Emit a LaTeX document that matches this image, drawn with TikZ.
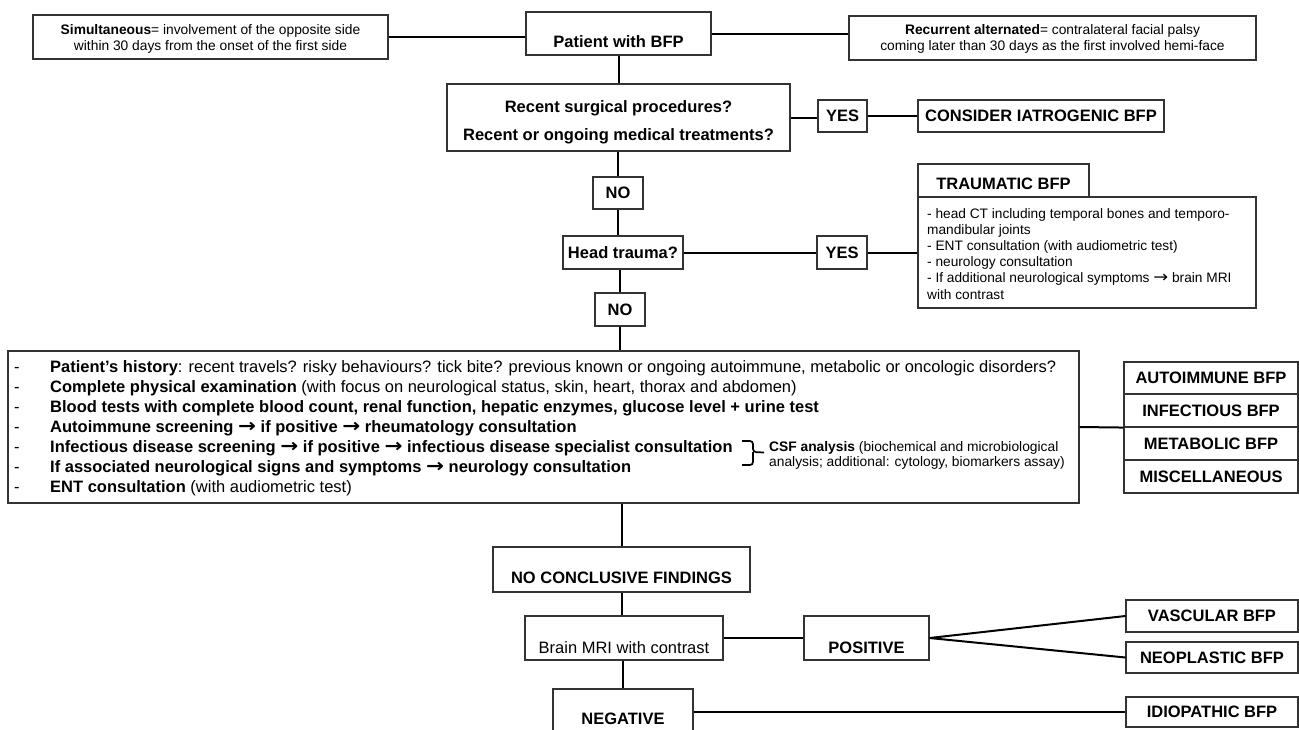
\documentclass[tikz,border=0pt]{standalone}
\usepackage{fontspec}
\usepackage{graphicx}
\setmainfont{Liberation Sans}
\newfontfamily\dvfont{DejaVu Sans}
\newcommand{\arr}{\scalebox{1.3}[1.15]{\dvfont\char"2192}}
\begin{document}
\begin{tikzpicture}[x=1pt,y=-1pt,
  box/.style={draw=black!80, line width=1.1pt, inner sep=0pt, rectangle, fill=white},
  conn/.style={line width=2pt, black},
  lbl/.style={font=\fontsize{16.5}{19}\selectfont\bfseries},
  txt/.style={anchor=base, inner sep=0pt},
  txtl/.style={anchor=base west, inner sep=0pt},
  small/.style={font=\fontsize{13.8}{16}\selectfont},
  mid/.style={font=\fontsize{13.7}{16}\selectfont},
  body/.style={font=\fontsize{16.5}{20}\selectfont},
  csf/.style={font=\fontsize{13.8}{15}\selectfont}
]
\clip (0,0) rectangle (1299,729);
\fill[white] (0,0) rectangle (1299,729);

% top row
\node[box, minimum width=355, minimum height=44] (sim) at (210.5,37) {};
\node[box, minimum width=185, minimum height=43] (pat) at (618.5,33.5) {};
\node[box, minimum width=407, minimum height=44] (rec) at (1052.5,38) {};
\node[txt, small] (simt1) at (210.5,34.8) {\textbf{Simultaneous}= involvement of the opposite side};
\node[txt, small] (simt2) at (210.5,50.8) {within 30 days from the onset of the first side};
\node[txt, lbl] (patt) at (618.5,47.9) {Patient with BFP};
\node[txt, small] (rect1) at (1052.5,34.8) {\textbf{Recurrent alternated}= contralateral facial palsy};
\node[txt, small] (rect2) at (1052.5,50.8) {coming later than 30 days as the first involved hemi-face};

% question 1
\node[box, minimum width=343, minimum height=67] (q1) at (618.5,117.5) {};
\node[txt, lbl] (q1t1) at (618.5,112.9) {Recent surgical procedures?};
\node[txt, lbl] (q1t2) at (618.5,140.9) {Recent or ongoing medical treatments?};
\node[box, lbl, minimum width=49, minimum height=32] (yes1) at (842.5,116) {YES};
\node[box, lbl, minimum width=246, minimum height=32] (iat) at (1041,116) {CONSIDER IATROGENIC BFP};

% head trauma
\node[box, lbl, minimum width=50, minimum height=32] (no1) at (618,193) {NO};
\node[box, lbl, minimum width=120, minimum height=33] (head) at (623,252.5) {Head trauma?};
\node[box, lbl, minimum width=50, minimum height=33] (yes2) at (842,252.5) {YES};
\node[box, minimum width=171, minimum height=33] (traumh) at (1003.5,180.5) {};
\node[txt, lbl] (traumht) at (1003.5,189) {TRAUMATIC BFP};
\node[box, minimum width=338, minimum height=111] (traumd) at (1087,252.5) {};
\node[txtl, mid] (td1) at (927,218) {- head CT including temporal bones and temporo-};
\node[txtl, mid] (td2) at (927,234.2) {mandibular joints};
\node[txtl, mid] (td3) at (927,250.4) {- ENT consultation (with audiometric test)};
\node[txtl, mid] (td4) at (927,266.6) {- neurology consultation};
\node[txtl, mid] (td5) at (927,282.8) {- If additional neurological symptoms \arr{} brain MRI};
\node[txtl, mid] (td6) at (927,299) {with contrast};
\node[box, lbl, minimum width=50, minimum height=33] (no2) at (620,309.5) {NO};

% main work-up box
\node[box, minimum width=1071, minimum height=152] (main) at (543.5,427) {};
\foreach \k in {0,...,6}{
  \node[txtl, body] (dash\k) at (14,372.7+20*\k) {-};
}
\node[txtl, body] (l1) at (50,372.7) {\textbf{Patient’s history}: recent travels? risky behaviours? tick bite? previous known or ongoing autoimmune, metabolic or oncologic disorders?};
\node[txtl, body] (l2) at (50,392.7) {\textbf{Complete physical examination} (with focus on neurological status, skin, heart, thorax and abdomen)};
\node[txtl, body] (l3) at (50,412.7) {\textbf{Blood tests with complete blood count, renal function, hepatic enzymes, glucose level + urine test}};
\node[txtl, body] (l4) at (50,432.7) {\textbf{Autoimmune screening \arr{} if positive \arr{} rheumatology consultation}};
\node[txtl, body] (l5) at (50,452.7) {\textbf{Infectious disease screening \arr{} if positive \arr{} infectious disease specialist consultation}};
\node[txtl, body] (l6) at (50,472.7) {\textbf{If associated neurological signs and symptoms \arr{} neurology consultation}};
\node[txtl, body] (l7) at (50,492.7) {\textbf{ENT consultation} (with audiometric test)};
% brace
\coordinate (bt) at (742,441);
\coordinate (bm) at (753,452);
\coordinate (btip) at (764,452.5);
\coordinate (bb) at (742,465);
\draw[line width=1.7pt, rounded corners=3pt] (bt) -- (bt -| bm) -- (bm) -- (btip);
\draw[line width=1.7pt, rounded corners=3pt] (bm) -- (bm |- bb) -- (bb);
\node[txtl, csf] (csf1) at (769,451.7) {\textbf{CSF analysis} (biochemical and microbiological};
\node[txtl, csf] (csf2) at (769,466.7) {analysis; additional: cytology, biomarkers assay)};

% aetiology stack
\node[box, lbl, minimum width=174, minimum height=32] (aut) at (1211,378) {AUTOIMMUNE BFP};
\node[box, lbl, minimum width=174, minimum height=33] (inf) at (1211,410.5) {INFECTIOUS BFP};
\node[box, lbl, minimum width=174, minimum height=33] (met) at (1211,443.5) {METABOLIC BFP};
\node[box, lbl, minimum width=174, minimum height=33] (mis) at (1211,476.5) {MISCELLANEOUS};

% bottom part
\node[box, minimum width=257, minimum height=45] (nc) at (621.5,569.5) {};
\node[txt, lbl] (nct) at (621.5,583) {NO CONCLUSIVE FINDINGS};
\node[box, minimum width=198, minimum height=44] (mri) at (624,638) {};
\node[txt, font=\fontsize{16.5}{19}\selectfont] (mrit) at (624,653) {Brain MRI with contrast};
\node[box, minimum width=125, minimum height=44] (pos) at (866.5,638) {};
\node[txt, lbl] (post) at (866.5,653) {POSITIVE};
\node[box, minimum width=140, minimum height=46] (neg) at (623,712) {};
\node[txt, lbl] (negt) at (623,724) {NEGATIVE};
\node[box, lbl, minimum width=172, minimum height=32] (vas) at (1212,616) {VASCULAR BFP};
\node[box, lbl, minimum width=172, minimum height=31] (neo) at (1212,657.5) {NEOPLASTIC BFP};
\node[box, lbl, minimum width=172, minimum height=30] (idi) at (1212,712) {IDIOPATHIC BFP};

% connectors
\draw[conn] (sim.east) -- (sim.east -| pat.west);
\draw[conn] (pat.east) -- (pat.east -| rec.west);
\draw[conn] (pat.south) -- (pat.south |- q1.north);
\draw[conn] (q1.east) -- (q1.east -| yes1.west);
\draw[conn] (yes1.east) -- (iat.west);
\draw[conn] (no1.north) -- (no1.north |- q1.south);
\draw[conn] (no1.south) -- (no1.south |- head.north);
\draw[conn] (head.east) -- (yes2.west);
\draw[conn] (yes2.east) -- (yes2.east -| traumd.west);
\draw[conn] (no2.north) -- (no2.north |- head.south);
\draw[conn] (no2.south) -- (no2.south |- main.north);
\draw[conn] (main.east) -- (inf.south west);
\draw[conn] (nc.north) -- (nc.north |- main.south);
\draw[conn] (nc.south) -- (nc.south |- mri.north);
\draw[conn] (mri.east) -- (pos.west);
\draw[conn] (pos.east) -- (vas.west);
\draw[conn] (pos.east) -- (neo.west);
\draw[conn] (neg.north) -- (neg.north |- mri.south);
\draw[conn] (neg.east) -- (neg.east -| idi.west);
\end{tikzpicture}
\end{document}
